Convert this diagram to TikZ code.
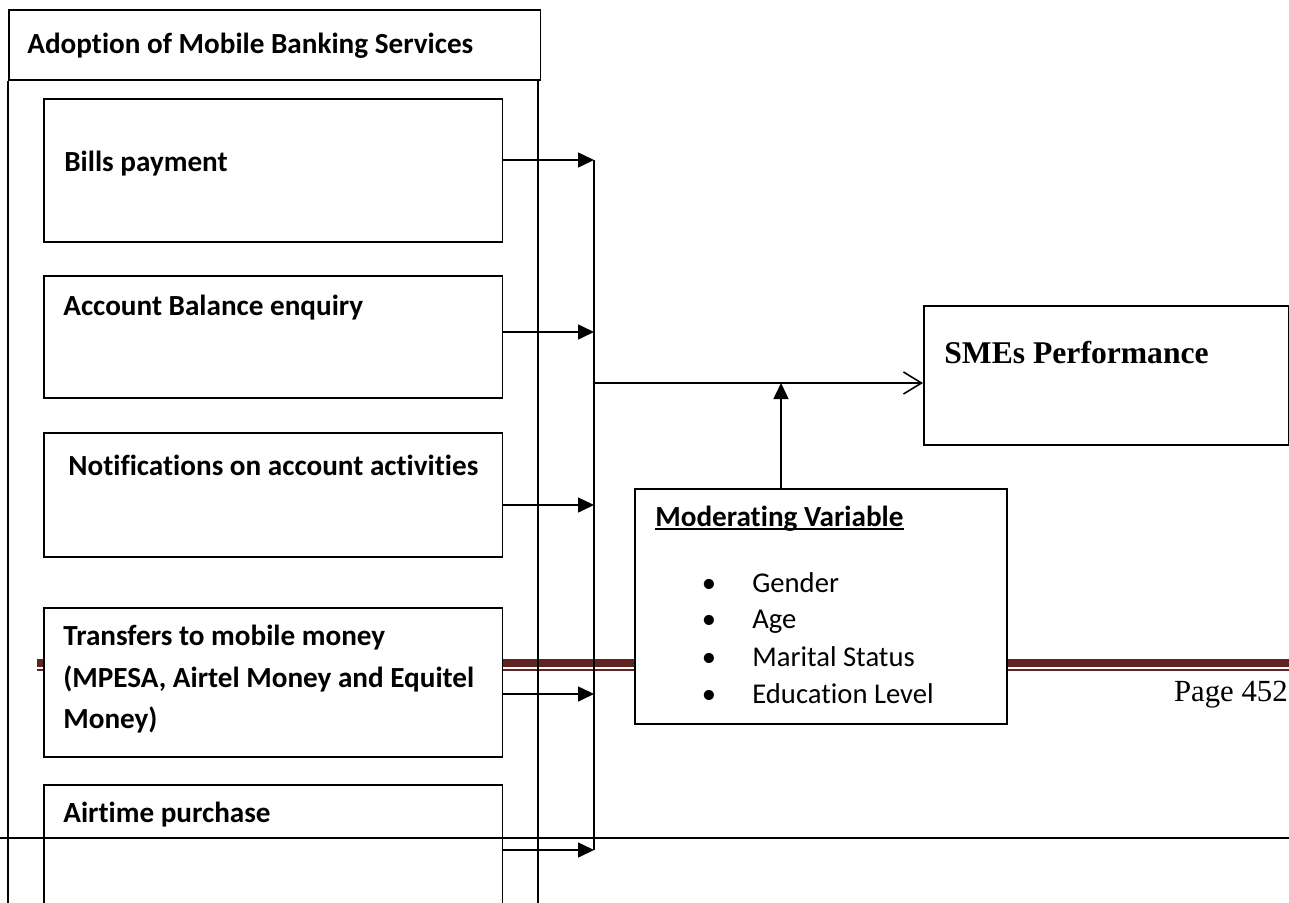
\documentclass[tikz,border=0pt]{standalone}
\usepackage{fontspec}
\setmainfont{Carlito}[Ligatures=NoCommon]
\newfontfamily\timesfont{Liberation Serif}
\usetikzlibrary{arrows.meta}
\definecolor{footred}{HTML}{622423}
\tikzset{
  box/.style={draw, fill=white, line width=0.9pt, inner sep=0pt, anchor=north west},
  lbl/.style={inner sep=0pt, anchor=base west, font=\fontsize{16.6}{19}\selectfont\bfseries},
  item/.style={inner sep=0pt, anchor=base west, font=\fontsize{16.3}{19}\selectfont},
  feed/.style={line width=0.9pt, -{Triangle[length=0.32cm,width=0.3cm]}},
  result/.style={line width=0.9pt, -{Straight Barb[length=0.36cm,width=0.44cm]}}
}
\begin{document}
\begin{tikzpicture}[x=0.02cm,y=-0.02cm]
\useasboundingbox (0,0) rectangle (1289,903);
\clip (0,0) rectangle (1289,903);
% page footer rule
\draw[footred, line width=4.5pt] (37,663) -- (1289,663);
\draw[footred, line width=0.7pt] (37,670) -- (1289,670);
% independent variable
\node[box, minimum width=10.64cm, minimum height=1.4cm] (hdr) at (8,9) {};
\node[lbl] (hdrT) at (27,53) {Adoption of Mobile Banking Services};
\draw[line width=0.9pt] (hdr.south west) -- (8,910);
\draw[line width=0.9pt] (538,79) -- (538,910);
\node[box, minimum width=9.18cm, minimum height=2.86cm] (bills) at (43,98) {};
\node[box, minimum width=9.18cm, minimum height=2.44cm] (acct) at (43,275) {};
\node[box, minimum width=9.18cm, minimum height=2.48cm] (notif) at (43,432) {};
\node[box, minimum width=9.18cm, minimum height=2.98cm] (trans) at (43,607) {};
\node[box, minimum width=9.18cm, minimum height=2.8cm] (air) at (43,784) {};
\node[lbl] (billsT) at (64,171) {Bills payment};
\node[lbl] (acctT) at (63,315) {Account Balance enquiry};
\node[lbl] (notifT) at (68,475) {Notifications on account activities};
\node[lbl] (transA) at (63,645) {Transfers to mobile money};
\node[lbl] (transB) at (63,687) {(MPESA, Airtel Money and Equitel};
\node[lbl] (transC) at (63,728) {Money)};
\node[lbl] (airT) at (63,822) {Airtime purchase};
% collector
\coordinate (c1) at (594,160);
\coordinate (c2) at (594,332);
\coordinate (c3) at (594,505);
\coordinate (c4) at (594,694);
\coordinate (c5) at (594,850);
\draw[line width=0.9pt] (c1) -- (c5);
\draw[feed] (bills.east |- c1) -- (c1);
\draw[feed] (acct.east |- c2) -- (c2);
\draw[feed] (notif.east |- c3) -- (c3);
\draw[feed] (trans.east |- c4) -- (c4);
\draw[feed] (air.east |- c5) -- (c5);
% dependent variable
\coordinate (j) at (594,383);
\node[box, minimum width=7.3cm, minimum height=2.78cm] (smes) at (923,305) {};
\node[inner sep=0pt, anchor=base west, font=\timesfont\fontsize{18}{22}\selectfont\bfseries] (smesT) at (944,363) {SMEs Performance};
\draw[result] (j) -- (smes.west |- j);
% moderating variable
\node[box, minimum width=7.44cm, minimum height=4.7cm] (mod) at (634,488) {};
\node[lbl] (modT) at (655,526) {Moderating Variable};
\draw[line width=0.8pt] ([yshift=-1.7pt]modT.base west) -- ([yshift=-1.7pt]modT.base east);
\coordinate (m) at (781,383);
\draw[feed] (m |- mod.north) -- (m);
\node[item, anchor=base] (b1) at (709,592) {•};
\node[item, anchor=base] (b2) at (709,628) {•};
\node[item, anchor=base] (b3) at (709,666) {•};
\node[item, anchor=base] (b4) at (709,703) {•};
\node[item] (gender) at (752,592) {Gender};
\node[item] (age) at (752,628) {Age};
\node[item] (marital) at (752,666) {Marital Status};
\node[item] (edu) at (752,703) {Education Level};
% page number and next page rule
\node[inner sep=0pt, anchor=base east, font=\timesfont\fontsize{17.5}{20}\selectfont] (pg) at (1288,701) {Page 452};
\draw[line width=0.8pt] (0,838) -- (1289,838);
\end{tikzpicture}
\end{document}
